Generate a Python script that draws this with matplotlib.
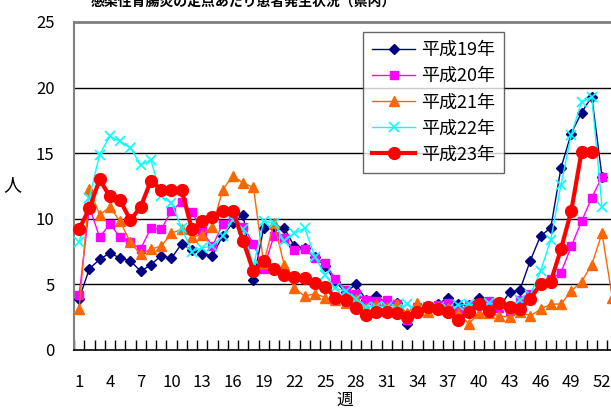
import matplotlib
matplotlib.use('Agg')
import matplotlib.pyplot as plt
from matplotlib.ticker import FixedLocator

plt.rcParams['font.family'] = ['Noto Sans CJK JP', 'DejaVu Sans']

title = "感染性胃腸炎の定点あたり患者発生状況（県内）"
labels = ["平成19年", "平成20年", "平成21年", "平成22年", "平成23年"]

h19 = [3.9, 6.2, 6.9, 7.4, 7.0, 6.8, 6.0, 6.5, 7.2, 7.0,
       8.1, 7.6, 7.3, 7.2, 8.7, 9.7, 10.3, 5.3, 9.3, 9.4,
       9.3, 7.9, 7.8, 7.1, 6.4, 5.2, 4.4, 5.0, 3.8, 4.1,
       3.6, 3.6, 2.0, 3.2, 3.3, 3.5, 4.0, 3.5, 3.4, 4.0,
       3.6, 3.3, 4.4, 4.6, 6.8, 8.7, 9.3, 13.9, 16.5, 18.1,
       19.3, 13.2]
h20 = [4.2, 10.9, 8.6, 9.6, 8.6, 8.2, 7.7, 9.3, 9.2, 10.6,
       11.3, 10.5, 9.1, 7.9, 9.6, 10.1, 9.4, 8.1, 6.2, 8.7,
       8.5, 7.6, 7.7, 7.0, 6.6, 5.4, 4.6, 4.3, 3.8, 3.7,
       3.8, 3.5, 2.3, 3.3, 3.3, 3.4, 3.6, 3.0, 3.4, 3.5,
       3.7, 3.2, 3.0, 3.8, 4.3, 5.0, 5.4, 5.9, 7.9, 9.8,
       11.6, 13.2]
h21 = [3.1, 12.3, 10.3, 10.9, 9.8, 8.2, 7.3, 7.7, 7.9, 8.9,
       9.2, 8.6, 8.8, 9.4, 12.2, 13.3, 12.7, 12.4, 6.6, 9.7,
       6.5, 4.7, 4.1, 4.3, 4.0, 3.8, 3.6, 3.9, 3.2, 3.5,
       3.3, 3.5, 2.8, 3.6, 2.9, 3.3, 3.2, 2.8, 2.0, 2.8,
       2.8, 2.6, 2.5, 2.9, 2.6, 3.1, 3.5, 3.5, 4.5, 5.2,
       6.5, 8.9, 4.0]
h22 = [8.2, 11.6, 14.9, 16.3, 15.9, 15.4, 14.1, 14.5, 11.7, 11.2,
       9.3, 7.5, 7.8, 7.9, 8.7, 9.9, 9.2, 6.4, 9.8, 9.7,
       8.3, 8.9, 9.3, 7.1, 5.7, 4.7, 4.5, 3.9, 3.3, 3.3,
       3.3, 3.1, 3.5, 3.0, 3.3, 3.2, 3.1, 3.4, 3.5, 3.4,
       3.6, 3.4, 3.3, 3.8, 4.2, 6.0, 8.4, 12.6, 16.4, 18.9,
       19.3, 10.9]
h23 = [9.2, 10.8, 13.0, 11.7, 11.4, 9.9, 10.9, 12.9, 12.2, 12.2,
       12.2, 9.2, 9.8, 10.1, 10.6, 10.6, 8.3, 6.0, 6.8, 6.2,
       5.7, 5.6, 5.5, 5.1, 4.8, 4.0, 3.8, 3.2, 2.7, 2.9,
       2.9, 2.8, 2.5, 2.9, 3.3, 3.1, 2.9, 2.3, 2.9, 3.5,
       3.0, 3.6, 3.3, 3.1, 3.9, 5.0, 5.2, 7.7, 10.6, 15.1,
       15.1]

series = [h19, h20, h21, h22, h23]
styles = [
    dict(color='#000080', marker='D', ms=5, lw=1.0),
    dict(color='#FF00FF', marker='s', ms=6, lw=1.0),
    dict(color='#FF6600', marker='^', ms=7, lw=1.0),
    dict(color='#00FFFF', marker='x', ms=7, mew=1.2, lw=1.0),
    dict(color='#FF0000', marker='o', ms=8.5, lw=3.0),
]

fig = plt.figure(figsize=(6.11, 4.08), dpi=100)
ax = fig.add_axes([74 / 611, 1 - 350 / 408, 543.4 / 611, 328 / 408])

for vals, lab, st in zip(series, labels, styles):
    weeks = list(range(1, len(vals) + 1))
    ax.plot(weeks, vals, label=lab, clip_on=False, zorder=3, **st)

ax.set_xlim(0.5, 53.5)
ax.set_ylim(0, 25)
ax.set_yticks([0, 5, 10, 15, 20, 25])
for y in [5, 10, 15, 20]:
    ax.axhline(y, color='black', lw=1.0, zorder=1)

ax.xaxis.set_major_locator(FixedLocator(list(range(1, 54, 3))))
ax.xaxis.set_minor_locator(FixedLocator([i + 0.5 for i in range(0, 54)]))
ax.tick_params(axis='x', which='major', length=0, pad=17, labelsize=12)
ax.tick_params(axis='x', which='minor', direction='in', length=7, width=1, color='black')
ax.tick_params(axis='y', length=0, pad=14, labelsize=12)

ax.spines['top'].set_color('#808080')
ax.spines['top'].set_linewidth(2)
ax.spines['left'].set_color('#808080')
ax.spines['left'].set_linewidth(1.5)
ax.spines['bottom'].set_color('black')
ax.spines['bottom'].set_linewidth(1.2)
ax.spines['right'].set_visible(False)

fig.text(345 / 611, 1 - 400 / 408, "週", ha='center', va='center', fontsize=12)
fig.text(12 / 611, 1 - 185 / 408, "人", ha='center', va='center', fontsize=13)
fig.text(243 / 611, 1 - 6 / 408, title, ha='center', va='baseline', fontsize=10, fontweight='bold')

leg = fig.legend(loc='upper left', bbox_to_anchor=(363 / 611, 1 - 32 / 408),
                 fontsize=13, frameon=True, fancybox=False, borderaxespad=0,
                 handlelength=2.4, labelspacing=0.45, borderpad=0.5, handletextpad=0.3)
leg.get_frame().set_edgecolor('#404040')
leg.get_frame().set_linewidth(1.0)

fig.savefig('out.png', dpi=100)
